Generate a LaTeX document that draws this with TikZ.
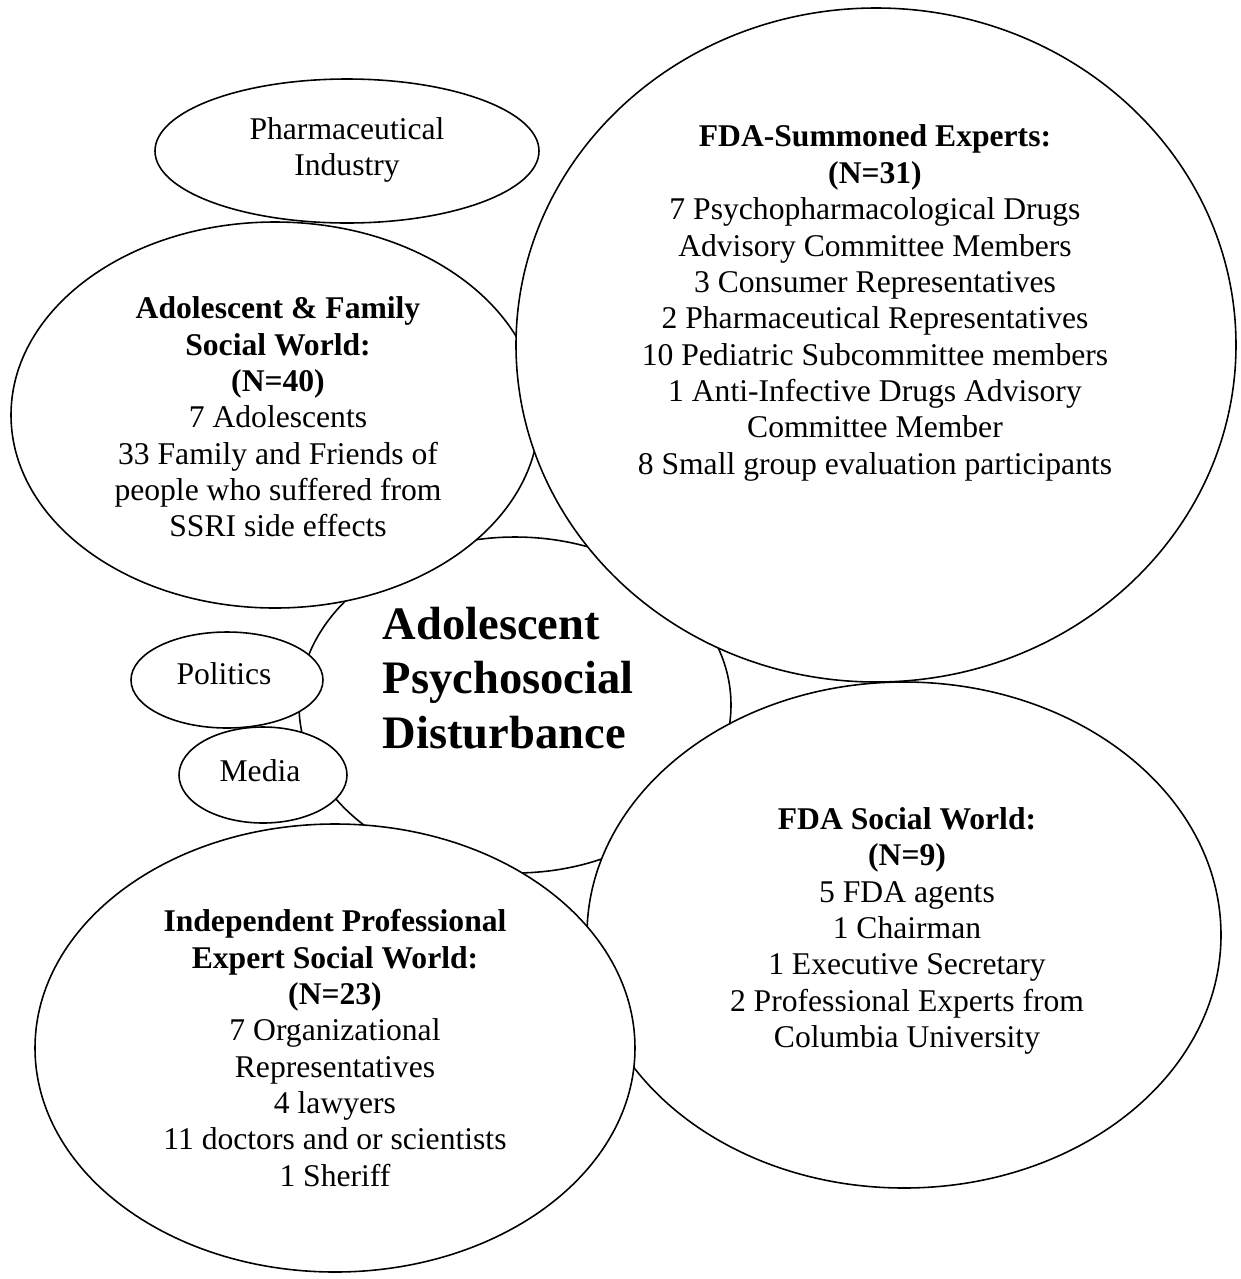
\documentclass[tikz,border=0pt]{standalone}
\usepackage{fontspec}
\setmainfont{Liberation Serif}
\begin{document}
\begin{tikzpicture}[x=0.02cm,y=-0.02cm,line width=0.9pt]
\tikzset{
  world/.style={draw,fill=white},
  txt/.style={align=center,inner sep=0pt,font=\fontsize{18}{20.7}\selectfont},
  big/.style={align=left,inner sep=0pt,font=\fontsize{26.5}{31}\selectfont\bfseries},
}
\useasboundingbox (0,0) rectangle (1241,1279);
% the disturbance in the middle
\filldraw[world] (515,705) ellipse [x radius=216,y radius=168];
\node[big,anchor=west] (apd) at (382,678) {Adolescent\\Psychosocial\\Disturbance};
% adolescent & family
\filldraw[world] (275,415) ellipse [x radius=264,y radius=193];
\node[txt] (fam) at (278,417) {\textbf{Adolescent \& Family}\\\textbf{Social World:}\\\textbf{(N=40)}\\7 Adolescents\\33 Family and Friends of\\people who suffered from\\SSRI side effects};
% summoned experts
\filldraw[world] (876,345) ellipse [x radius=360,y radius=337];
\node[txt] (summ) at (875,303) {\textbf{FDA-Summoned Experts:}\\\textbf{(N=31)}\\7 Psychopharmacological Drugs\\Advisory Committee Members\\3 Consumer Representatives\\2 Pharmaceutical Representatives\\10 Pediatric Subcommittee members\\1 Anti-Infective Drugs Advisory\\Committee Member\\8 Small group evaluation participants};
% fda
\filldraw[world] (904,935) ellipse [x radius=317,y radius=253];
\node[txt] (fda) at (907,931) {\textbf{FDA Social World:}\\\textbf{(N=9)}\\5 FDA agents\\1 Chairman\\1 Executive Secretary\\2 Professional Experts from\\Columbia University};
% independent experts
\filldraw[world] (335,1048) ellipse [x radius=300,y radius=224];
\node[txt] (indep) at (335,1048) {\textbf{Independent Professional}\\\textbf{Expert Social World:}\\\textbf{(N=23)}\\7 Organizational\\Representatives\\4 lawyers\\11 doctors and or scientists\\1 Sheriff};
% small ones
\filldraw[world] (227,680) ellipse [x radius=96,y radius=48];
\node[txt] (pol) at (224,674) {Politics};
\filldraw[world] (263,775) ellipse [x radius=84,y radius=48];
\node[txt] (med) at (260,771) {Media};
\filldraw[world] (347,151) ellipse [x radius=192,y radius=72];
\node[txt] (pharm) at (347,150) {Pharmaceutical\\Industry};
\end{tikzpicture}
\end{document}
